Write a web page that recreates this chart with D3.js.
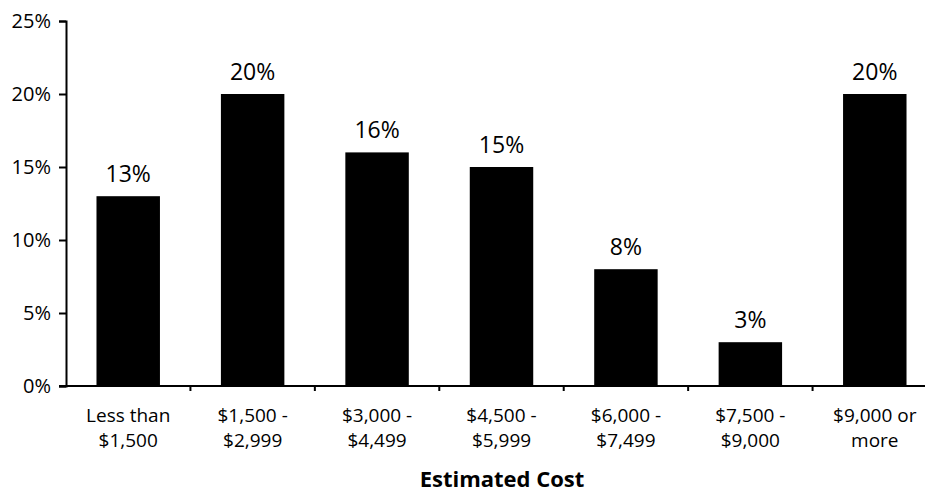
<!DOCTYPE html>
<html>
<head>
<meta charset="utf-8">
<script src="https://d3js.org/d3.v7.min.js"></script>
<style>
html,body{margin:0;padding:0;background:#fff;}
svg{display:block;}
text{font-family:"Open Sans",sans-serif;fill:#000;}
</style>
</head>
<body>
<svg id="chart" width="925" height="492"></svg>
<script>
const categories = [["Less than","$1,500"],["$1,500 -","$2,999"],["$3,000 -","$4,499"],["$4,500 -","$5,999"],["$6,000 -","$7,499"],["$7,500 -","$9,000"],["$9,000 or","more"]];
const values = [13, 20, 16, 15, 8, 3, 20];
const valueLabels = ["13%","20%","16%","15%","8%","3%","20%"];
const yTicks = [0, 5, 10, 15, 20, 25];
const xTitle = "Estimated Cost";

const svg = d3.select("#chart");
const mLeft = 66, mRight = 937, mTop = 21, mBottom = 386;

const x = d3.scaleBand().domain(d3.range(categories.length)).range([mLeft, mRight]).paddingInner(0.49).paddingOuter(0.245);
const xEdges = d3.scaleLinear().domain([0, categories.length]).range([mLeft, mRight]);
const y = d3.scaleLinear().domain([0, 25]).range([mBottom, mTop]);

// bars
svg.selectAll("rect.bar").data(values).enter().append("rect")
  .attr("class","bar")
  .attr("x",(d,i)=>x(i)).attr("width",x.bandwidth())
  .attr("y",d=>y(d)).attr("height",d=>y(0)-y(d))
  .attr("fill","#000");

// value labels
svg.selectAll("text.val").data(values).enter().append("text")
  .attr("class","val")
  .attr("x",(d,i)=>x(i)+x.bandwidth()/2)
  .attr("y",d=>y(d)-14)
  .attr("text-anchor","middle")
  .attr("font-size",23)
  .text((d,i)=>valueLabels[i]);

// y axis
const yAxis = d3.axisLeft(y).tickValues(yTicks).tickFormat(d=>d+"%").tickSize(7).tickPadding(8);
const gy = svg.append("g").attr("transform",`translate(${mLeft},0)`).call(yAxis);
gy.select(".domain").attr("stroke","#000").attr("stroke-width",2);
gy.selectAll(".tick line").attr("stroke","#000").attr("stroke-width",2);
gy.selectAll(".tick text").attr("font-size",20).attr("font-family","Open Sans, sans-serif").attr("fill","#000");

// x axis line and ticks
svg.append("line").attr("x1",mLeft-7).attr("x2",mRight).attr("y1",mBottom).attr("y2",mBottom).attr("stroke","#000").attr("stroke-width",2);
svg.selectAll("line.xt").data(d3.range(1, categories.length)).enter().append("line")
  .attr("class","xt")
  .attr("x1",d=>xEdges(d)).attr("x2",d=>xEdges(d))
  .attr("y1",mBottom).attr("y2",mBottom+5)
  .attr("stroke","#000").attr("stroke-width",2);

// category labels
const cl = svg.selectAll("text.cat").data(categories).enter().append("text")
  .attr("class","cat")
  .attr("text-anchor","middle")
  .attr("font-size",19);
cl.append("tspan").attr("x",(d,i)=>x(i)+x.bandwidth()/2).attr("y",422).text(d=>d[0]);
cl.append("tspan").attr("x",(d,i)=>x(i)+x.bandwidth()/2).attr("y",447).text(d=>d[1]);

// axis title
svg.append("text").attr("x",502).attr("y",487).attr("text-anchor","middle")
  .attr("font-size",22).attr("font-weight","bold").text(xTitle);
</script>
</body>
</html>
